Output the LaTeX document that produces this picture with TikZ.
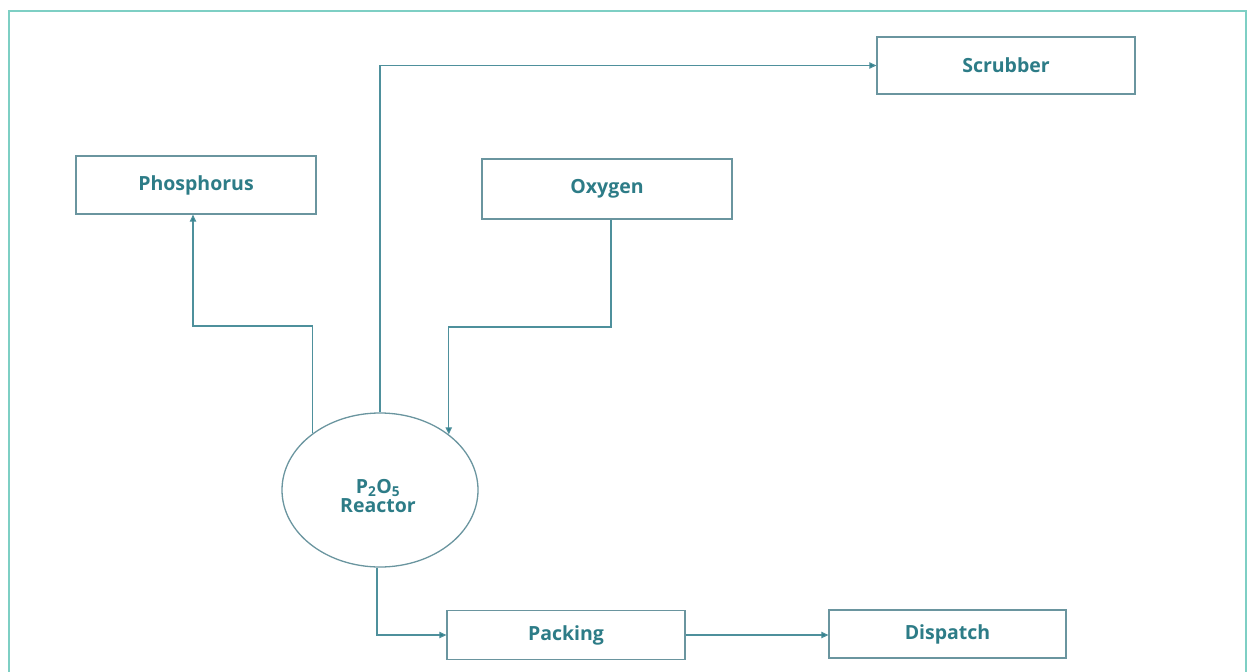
\documentclass[tikz,border=0pt]{standalone}
\usepackage{fontspec}
\setmainfont{Open Sans}
\usetikzlibrary{arrows.meta,shapes.geometric,calc}
\definecolor{frameC}{HTML}{7ECFC4}
\definecolor{boxC}{HTML}{6A959F}
\definecolor{lineC}{HTML}{4E909C}
\definecolor{tipC}{HTML}{2F7F8C}
\definecolor{txtC}{HTML}{2D7C87}
\tikzset{
  procbox/.style={draw=boxC, line width=1.3pt, fill=white, inner sep=0pt,
    font=\fontsize{19.5}{22}\selectfont\bfseries, text=txtC},
  reactor/.style={ellipse, draw=boxC, line width=1.3pt, inner sep=0pt,
    minimum width=196pt, minimum height=154pt},
  reactortext/.style={align=center, inner sep=0pt,
    font=\fontsize{19.5}{19}\selectfont\bfseries, text=txtC},
  flow/.style={draw=lineC, line width=1.1pt,
    -{Triangle[length=7pt,width=6.5pt,fill=tipC]}},
  framestyle/.style={draw=frameC, line width=2.2pt}
}
\begin{document}
\begin{tikzpicture}[x=1pt,y=-1pt]
\useasboundingbox (0,0) rectangle (1248,672);
\draw[framestyle] (9,672) -- (9,11) -- (1246,11) -- (1246,672);

\node[procbox, minimum width=240pt, minimum height=58pt] (P) at (196,185) {Phosphorus};
\node[procbox, minimum width=250pt, minimum height=60pt] (O) at (607,189) {Oxygen};
\node[procbox, minimum width=258pt, minimum height=57pt] (S) at (1006,65.5) {Scrubber};
\node[procbox, minimum width=238pt, minimum height=49pt] (K) at (566,635) {Packing};
\node[procbox, minimum width=237pt, minimum height=48pt] (D) at (947.5,634) {Dispatch};
\node[reactor] (R) at (380,490) {};
\node[reactortext] (RT) at (378,496) {P\textsubscript{2}O\textsubscript{5}\\Reactor};

\coordinate (p1) at (193,326);
\coordinate (o1) at (0,327);
\draw[flow] (R.140.5) |- (p1) -- (p1 |- P.south);
\draw[flow] (R.north) |- (S.west);
\draw[flow] ([xshift=4pt]O.south) |- (R.39.5 |- o1) -- (R.39.5);
\draw[flow] ([xshift=-3pt]R.south) |- (K.west);
\draw[flow] (K.east) -- (K.east -| D.west);
\end{tikzpicture}
\end{document}
